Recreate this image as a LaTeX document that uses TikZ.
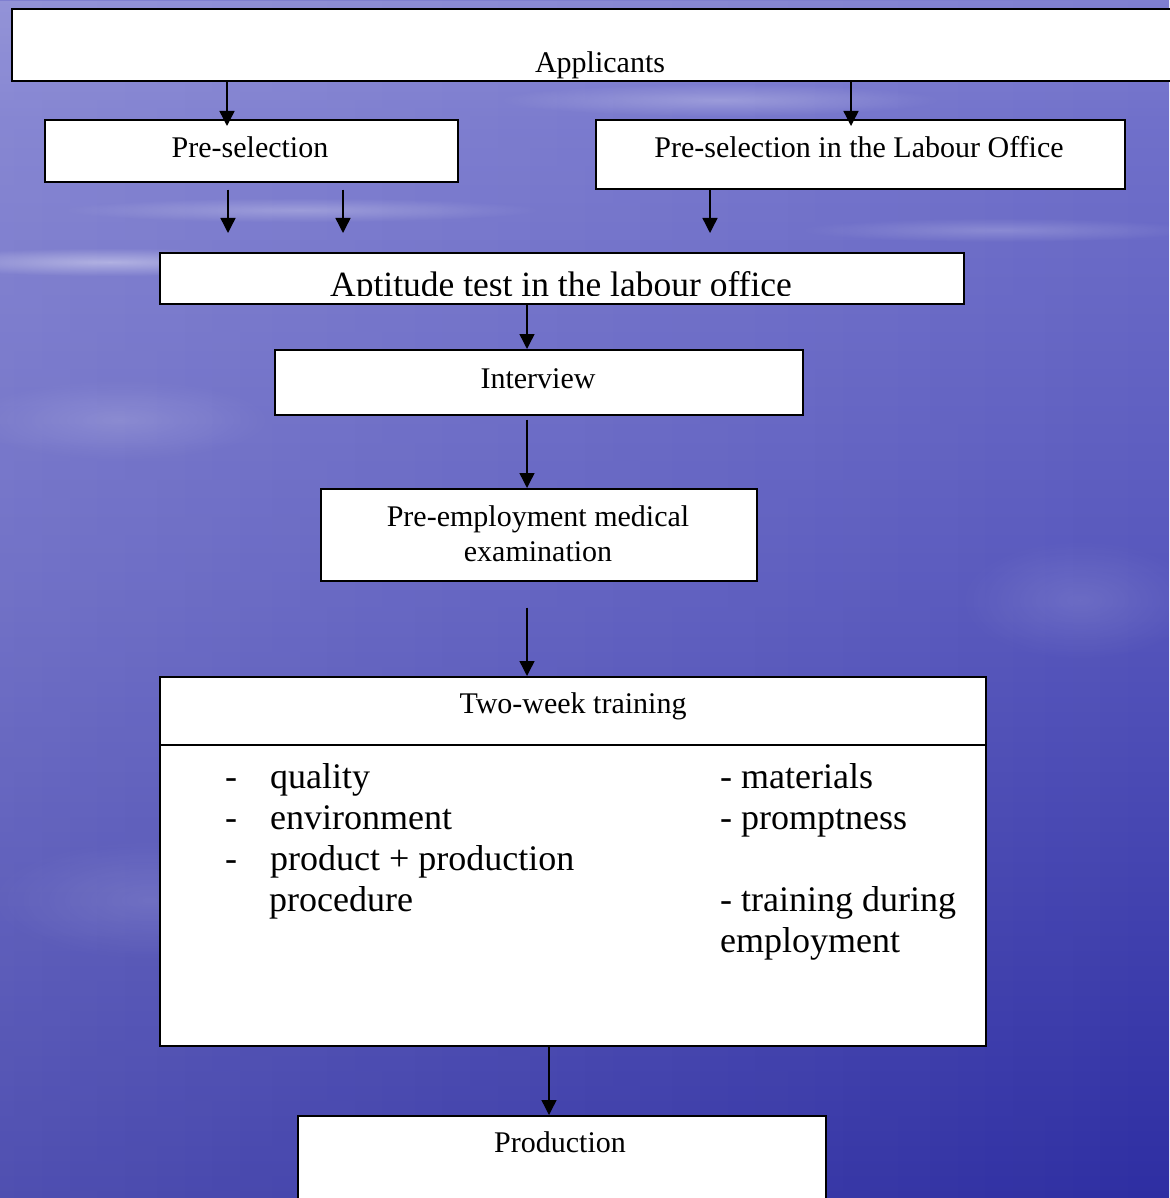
\documentclass[tikz,border=0pt]{standalone}
\usepackage{fontspec}
\setmainfont{Liberation Serif}
\usetikzlibrary{arrows.meta,fadings}
\definecolor{bgA}{RGB}{34,34,156}
\definecolor{bgB}{RGB}{46,46,162}
\definecolor{bgC}{RGB}{86,86,188}
\definecolor{bgD}{RGB}{112,112,202}
\definecolor{bgE}{RGB}{136,136,212}
\definecolor{bgF}{RGB}{106,106,200}
\definecolor{bgG}{RGB}{84,84,190}
\pgfdeclareverticalshading{bgsh}{100bp}{%
  color(0bp)=(bgA); color(25bp)=(bgB); color(50bp)=(bgC);
  color(70bp)=(bgD); color(78bp)=(bgE); color(86bp)=(bgF);
  color(100bp)=(bgG)}
\tikzfading[name=softfade, inner color=transparent!0, outer color=transparent!100]
\tikzset{
  box/.style={draw=black, line width=1.6pt, fill=white, inner sep=0pt, anchor=north west},
  arr/.style={line width=1.4pt, -{Triangle[length=15pt,width=15pt]}},
  lbl/.style={inner sep=0pt, anchor=base, font=\fontsize{30}{35}\selectfont},
  item/.style={inner sep=0pt, anchor=base west, font=\fontsize{36}{41}\selectfont},
  cloud/.style={white, path fading=softfade, fit fading=true}
}
\begin{document}
\begin{tikzpicture}[x=1pt,y=-1pt]
\useasboundingbox (0,0) rectangle (1169,1198);
% background
\shade[shading=bgsh] (0,0) rectangle (1169,1198);
\fill[white, opacity=0.16, path fading=east] (0,0) rectangle (1169,1198);
\fill[cloud, opacity=0.40] (110,262) ellipse (200 and 14);
\fill[cloud, opacity=0.25] (300,210) ellipse (240 and 12);
\fill[cloud, opacity=0.25] (720,100) ellipse (220 and 16);
\fill[cloud, opacity=0.20] (1000,230) ellipse (200 and 12);
\fill[cloud, opacity=0.15] (120,420) ellipse (150 and 40);
\fill[cloud, opacity=0.12] (1080,600) ellipse (120 and 60);
\fill[cloud, opacity=0.12] (150,900) ellipse (160 and 60);

% coordinates for connector columns
\coordinate (cA) at (227,0);
\coordinate (cB) at (851,0);
\coordinate (cC) at (228,0);
\coordinate (cD) at (343,0);
\coordinate (cE) at (710,0);
\coordinate (cF) at (527,0);
\coordinate (cG) at (549,0);

% boxes
\node[box, minimum width=1175pt, minimum height=72pt] (app) at (11,8) {};
\node[box, minimum width=413pt, minimum height=62pt] (pre) at (44,119) {};
\node[box, minimum width=529pt, minimum height=69pt] (lab) at (595,119) {};
\node[box, minimum width=804pt, minimum height=51pt] (apt) at (159,252) {};
\node[box, minimum width=528pt, minimum height=65pt] (int) at (274,349) {};
\node[box, minimum width=436pt, minimum height=92pt] (med) at (320,488) {};
\node[box, minimum width=826pt, minimum height=369pt] (trn) at (159,676) {};
\coordinate (dl) at (159,745);
\coordinate (dr) at (985,745);
\draw[line width=1.6pt] (dl) -- (dr);
\node[box, minimum width=528pt, minimum height=100pt] (prod) at (297,1115) {};

% labels
\node[lbl] (tApp) at (600,73) {Applicants};
\node[lbl] (tPre) at (250,158) {Pre-selection};
\node[lbl] (tLab) at (859,158) {Pre-selection in the Labour Office};
\begin{scope}
\clip (159,252) rectangle (963,295.5);
\node[lbl, font=\fontsize{35.5}{40}\selectfont] (tApt) at (561,296) {Aptitude test in the labour office};
\end{scope}
\node[lbl] (tInt) at (538,388) {Interview};
\node[lbl] (tMed1) at (538,526) {Pre-employment medical};
\node[lbl] (tMed2) at (538,561) {examination};
\node[lbl] (tTrn) at (573,713) {Two-week training};
\node[lbl] (tProd) at (560,1152) {Production};

% items
\node[item] (d1) at (225,788) {-};
\node[item] (i1) at (270,788) {quality};
\node[item] (d2) at (225,829) {-};
\node[item] (i2) at (270,829) {environment};
\node[item] (d3) at (225,870) {-};
\node[item] (i3) at (270,870) {product + production};
\node[item] (i4) at (269,911) {procedure};
\node[item] (r1) at (720,788) {- materials};
\node[item] (r2) at (720,829) {- promptness};
\node[item] (r3) at (720,911) {- training during};
\node[item] (r4) at (720,952) {employment};

% connectors
\draw[arr] (app.south -| cA) -- ([yshift=-7pt]pre.north -| cA);
\draw[arr] (app.south -| cB) -- ([yshift=-7pt]lab.north -| cB);
\draw[arr, shorten <=7pt, shorten >=19pt] (pre.south -| cC) -- (apt.north -| cC);
\draw[arr, shorten <=7pt, shorten >=19pt] (pre.south -| cD) -- (apt.north -| cD);
\draw[arr, shorten >=19pt] (lab.south -| cE) -- (apt.north -| cE);
\draw[arr] (apt.south -| cF) -- (int.north -| cF);
\draw[arr, shorten <=4pt] (int.south -| cF) -- (med.north -| cF);
\draw[arr, shorten <=26pt] (med.south -| cF) -- (trn.north -| cF);
\draw[arr] (trn.south -| cG) -- (prod.north -| cG);
\end{tikzpicture}
\end{document}
